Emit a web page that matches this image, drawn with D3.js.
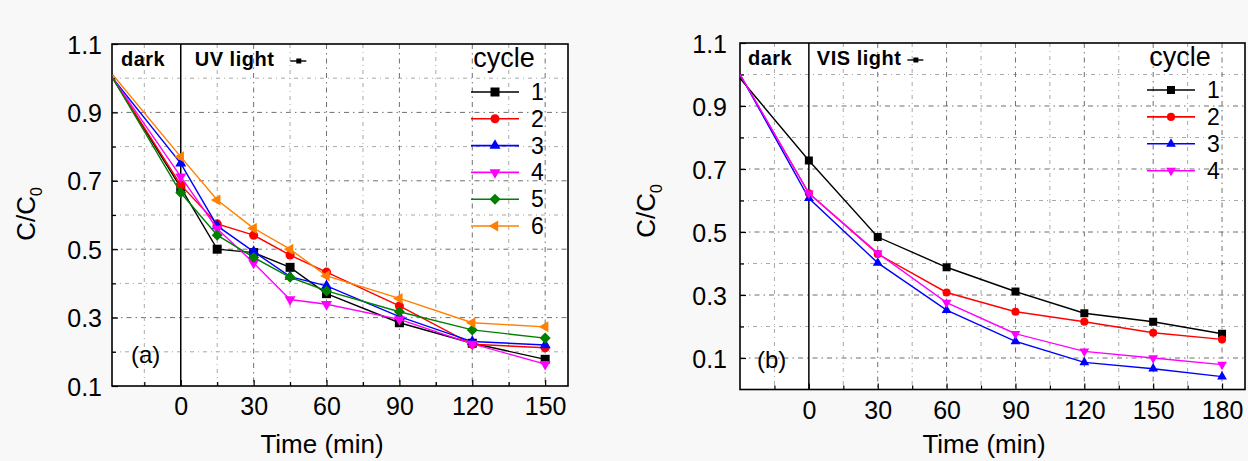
<!DOCTYPE html>
<meta charset="utf-8">
<title>Photocatalytic cycles - UV and VIS light</title>
<style>
body { margin: 0; background: #f8f8f8; }
svg { display: block; }
text { font-family: "Liberation Sans", Arial, sans-serif; fill: #000; }
.grid line { stroke-width: 1; }
.grid .major { stroke: #6f6f6f; stroke-dasharray: 5,4,1.5,4; }
.grid .minor { stroke: #a8a8a8; stroke-dasharray: 4,4,1,4; }
.series path.line { fill: none; stroke-width: 1.4; }
</style>
<svg width="1248" height="461"></svg>
<script src="https://d3js.org/d3.v7.min.js"></script>
<script>
// ---- data ----
var uvTimes   = [-28, 0, 15, 30, 45, 60, 90, 120, 150];
var uvCycle1  = [1.00, 0.680, 0.500, 0.490, 0.447, 0.370, 0.285, 0.225, 0.178];
var uvCycle2  = [1.00, 0.688, 0.574, 0.541, 0.483, 0.433, 0.334, 0.222, 0.212];
var uvCycle3  = [1.00, 0.751, 0.568, 0.493, 0.420, 0.393, 0.303, 0.230, 0.220];
var uvCycle4  = [1.00, 0.712, 0.560, 0.460, 0.353, 0.339, 0.295, 0.223, 0.164];
var uvCycle5  = [1.00, 0.665, 0.541, 0.476, 0.418, 0.378, 0.317, 0.264, 0.240];
var uvCycle6  = [1.01, 0.770, 0.644, 0.561, 0.500, 0.422, 0.356, 0.285, 0.273];

var visTimes  = [-30, 0, 30, 60, 90, 120, 150, 180];
var visCycle1 = [0.988, 0.727, 0.484, 0.388, 0.311, 0.242, 0.215, 0.177];
var visCycle2 = [1.00, 0.623, 0.430, 0.308, 0.247, 0.215, 0.180, 0.159];
var visCycle3 = [1.00, 0.607, 0.402, 0.252, 0.153, 0.086, 0.066, 0.041];
var visCycle4 = [1.00, 0.623, 0.433, 0.276, 0.177, 0.121, 0.100, 0.079];

var cycleLabels = ["1", "2", "3", "4", "5", "6"];
var uvXTicks  = [0, 30, 60, 90, 120, 150];
var visXTicks = [0, 30, 60, 90, 120, 150, 180];
var yTicks    = [0.1, 0.3, 0.5, 0.7, 0.9, 1.1];

var colors  = ["#000000", "#ff0000", "#0000ff", "#ff00ff", "#008000", "#ff8000"];
var symbols = ["square", "circle", "up", "down", "diamond", "left"];

var svg = d3.select("svg");

function marker(kind, s) {
  var sym = d3.symbol();
  if (kind == "square") return { d: sym.type(d3.symbolSquare).size(s * s)(), rot: 0 };
  if (kind == "circle") return { d: sym.type(d3.symbolCircle).size(0.8 * s * s)(), rot: 0 };
  if (kind == "diamond") return { d: sym.type(d3.symbolSquare).size(0.75 * s * s)(), rot: 45 };
  var tri = sym.type(d3.symbolTriangle).size(0.65 * s * s)();
  if (kind == "up") return { d: tri, rot: 0 };
  if (kind == "down") return { d: tri, rot: 180 };
  return { d: tri, rot: -90 };
}

function drawPanel(p) {
  var x = d3.scaleLinear().domain(p.xDomain).range([p.left, p.right]);
  var y = d3.scaleLinear().domain(p.yDomain).range([p.bottom, p.top]);
  var g = svg.append("g");

  g.append("rect")
      .attr("x", p.left).attr("y", p.top)
      .attr("width", p.right - p.left).attr("height", p.bottom - p.top)
      .attr("fill", "#fff");

  // grid
  var grid = g.append("g").attr("class", "grid");
  var yGrid = d3.range(1, 11).map(function(i) { return +(p.yDomain[0] + i * 0.1).toFixed(2); })
      .filter(function(v) { return v < p.yDomain[1] - 0.01; });
  grid.selectAll("line.h").data(yGrid).enter().append("line")
      .attr("class", function(d) { return yTicks.indexOf(d) >= 0 ? "major" : "minor"; })
      .attr("x1", p.left).attr("x2", p.right)
      .attr("y1", function(d) { return y(d); }).attr("y2", function(d) { return y(d); });
  var xGrid = d3.range(-15, p.xDomain[1], 15).filter(function(v) { return v != 0; });
  grid.selectAll("line.v").data(xGrid).enter().append("line")
      .attr("class", function(d) { return d % 30 == 0 ? "major" : "minor"; })
      .attr("y1", p.top).attr("y2", p.bottom)
      .attr("x1", function(d) { return x(d); }).attr("x2", function(d) { return x(d); });

  // axes, ticks pointing inward
  var yAxis = g.append("g").attr("transform", "translate(" + p.left + ",0)")
      .call(d3.axisLeft(y).tickValues(yTicks).tickFormat(d3.format(".1f"))
            .tickSizeInner(-6).tickSizeOuter(0).tickPadding(p.yPad));
  var yMinor = g.append("g").attr("transform", "translate(" + p.left + ",0)")
      .call(d3.axisLeft(y).tickValues(yGrid.filter(function(v) { return yTicks.indexOf(v) < 0; }))
            .tickFormat("").tickSizeInner(-4).tickSizeOuter(0));
  var xAxis = g.append("g").attr("transform", "translate(0," + p.bottom + ")")
      .call(d3.axisBottom(x).tickValues(p.xTicks).tickFormat(d3.format("d"))
            .tickSizeInner(-6).tickSizeOuter(0).tickPadding(11));
  var xMinor = g.append("g").attr("transform", "translate(0," + p.bottom + ")")
      .call(d3.axisBottom(x).tickValues(xGrid.filter(function(v) { return v % 30 != 0; }))
            .tickFormat("").tickSizeInner(-4).tickSizeOuter(0));
  [yAxis, yMinor, xAxis, xMinor].forEach(function(a) {
    a.select(".domain").remove();
    a.selectAll(".tick line").attr("stroke", "#000").attr("stroke-width", 1.2);
  });
  yAxis.selectAll("text").style("font-size", "25px").attr("dy", "0.36em");
  xAxis.selectAll("text").style("font-size", "25px").attr("dy", "0.72em");

  // frame and dark/light divider
  g.append("rect")
      .attr("x", p.left).attr("y", p.top)
      .attr("width", p.right - p.left).attr("height", p.bottom - p.top)
      .attr("fill", "none").attr("stroke", "#000").attr("stroke-width", 1.6);
  g.append("line")
      .attr("x1", x(0)).attr("x2", x(0)).attr("y1", p.top).attr("y2", p.bottom)
      .attr("stroke", "#000").attr("stroke-width", 1.5);

  // series
  var line = d3.line()
      .x(function(d) { return x(d[0]); })
      .y(function(d) { return y(d[1]); });
  p.series.forEach(function(vals, i) {
    var pts = p.times.map(function(t, j) { return [t, vals[j]]; });
    var s = g.append("g").attr("class", "series");
    s.append("path").attr("class", "line").attr("stroke", colors[i]).attr("d", line(pts));
    var m = marker(symbols[i], p.ms);
    s.selectAll("path.pt").data(pts.slice(1)).enter().append("path")
        .attr("class", "pt")
        .attr("d", m.d)
        .attr("fill", colors[i])
        .attr("transform", function(d) {
          return "translate(" + x(d[0]) + "," + y(d[1]) + ") rotate(" + m.rot + ")";
        });
  });

  // labels inside the plot
  g.append("text").attr("x", p.darkX).attr("y", p.top + 22)
      .style("font-size", "20px").style("font-weight", "bold")
      .style("letter-spacing", "0.5px").text("dark");
  var lt = g.append("text").attr("x", x(0) + p.lightGap).attr("y", p.top + 22)
      .style("font-size", "20px").style("font-weight", "bold")
      .style("letter-spacing", "0.5px").text(p.lightLabel);
  var ltEnd = x(0) + p.lightGap + lt.node().getComputedTextLength();
  g.append("line").attr("x1", ltEnd + p.symGap).attr("x2", ltEnd + p.symGap + 16)
      .attr("y1", p.top + 17).attr("y2", p.top + 17).attr("stroke", "#000").attr("stroke-width", 1.4);
  g.append("rect").attr("x", ltEnd + p.symGap + 6).attr("y", p.top + 14.5)
      .attr("width", 5).attr("height", 5).attr("fill", "#000");

  g.append("text").attr("x", p.panelLabelX).attr("y", p.panelLabelY)
      .style("font-size", "24px").text(p.panelLabel);

  // legend
  g.append("text").attr("x", p.legX + 33).attr("y", p.top + 23)
      .attr("text-anchor", "middle").style("font-size", "27px").text("cycle");
  p.series.forEach(function(vals, i) {
    var ly = p.legY0 + i * p.legStep;
    g.append("line").attr("x1", p.legX).attr("x2", p.legX + 48)
        .attr("y1", ly).attr("y2", ly).attr("stroke", colors[i]).attr("stroke-width", 1.6);
    var m = marker(symbols[i], p.ms);
    g.append("path").attr("d", m.d).attr("fill", colors[i])
        .attr("transform", "translate(" + (p.legX + 24) + "," + ly + ") rotate(" + m.rot + ")");
    g.append("text").attr("x", p.legX + 60).attr("y", ly + 8)
        .style("font-size", "23px").text(cycleLabels[i]);
  });

  // axis titles
  g.append("text").attr("x", p.xTitleX).attr("y", 453)
      .attr("text-anchor", "middle").style("font-size", "26px").text("Time (min)");
  var yt = g.append("text")
      .attr("transform", "translate(" + p.yTitleX + "," + p.yTitleY + ") rotate(-90)")
      .attr("text-anchor", "middle").style("font-size", "26px");
  yt.append("tspan").text("C/C");
  yt.append("tspan").attr("dy", 7).style("font-size", "16px").text("0");
}

drawPanel({
  left: 112, right: 568, top: 44, bottom: 386,
  xDomain: [-28.3, 159.4], yDomain: [0.1, 1.1],
  xTicks: uvXTicks, yPad: 10,
  times: uvTimes,
  series: [uvCycle1, uvCycle2, uvCycle3, uvCycle4, uvCycle5, uvCycle6],
  ms: 9,
  darkX: 121, lightLabel: "UV light", lightGap: 14, symGap: 16,
  panelLabel: "(a)", panelLabelX: 131, panelLabelY: 363,
  legX: 471, legY0: 92, legStep: 26.8,
  xTitleX: 322, yTitleX: 35, yTitleY: 214
});

drawPanel({
  left: 740, right: 1245, top: 43, bottom: 389.5,
  xDomain: [-30, 190], yDomain: [0, 1.1],
  xTicks: visXTicks, yPad: 13,
  times: visTimes,
  series: [visCycle1, visCycle2, visCycle3, visCycle4],
  ms: 8,
  darkX: 748, lightLabel: "VIS light", lightGap: 8, symGap: 6,
  panelLabel: "(b)", panelLabelX: 757, panelLabelY: 368,
  legX: 1147, legY0: 90, legStep: 26.9,
  xTitleX: 984, yTitleX: 655, yTitleY: 211
});
</script>
